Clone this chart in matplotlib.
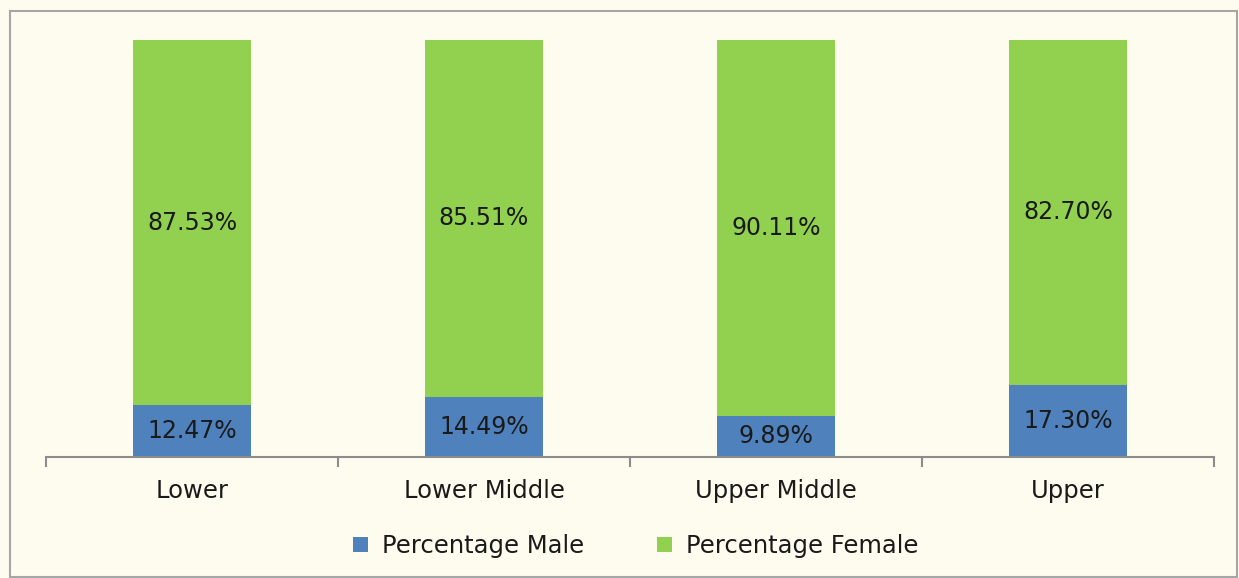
import matplotlib.pyplot as plt
import numpy as np
from matplotlib.patches import Rectangle

categories = ["Lower", "Lower Middle", "Upper Middle", "Upper"]
male = [12.47, 14.49, 9.89, 17.30]
female = [87.53, 85.51, 90.11, 82.70]

W, H = 1239, 578
bg = "#FEFCEF"
blue = "#4F81BD"
green = "#92D050"
txt = "#1a1a1a"

fig = plt.figure(figsize=(W / 100, H / 100), dpi=100)
fig.patch.set_facecolor(bg)

# outer chart frame
fig.add_artist(Rectangle((10 / W, 1 - 577 / H), 1227 / W, 566 / H,
                         transform=fig.transFigure, fill=False,
                         edgecolor="#A6A6A6", linewidth=1.5))

ax = fig.add_axes([46 / W, 1 - 457 / H, 1168 / W, 417 / H])
ax.set_facecolor(bg)

x = np.arange(len(categories))
ax.bar(x, male, width=0.405, color=blue, label="Percentage Male")
ax.bar(x, female, width=0.405, bottom=male, color=green, label="Percentage Female")

for i in range(len(categories)):
    ax.text(x[i], male[i] / 2, f"{male[i]:.2f}%", ha="center", va="center",
            fontsize=17, color=txt)
    ax.text(x[i], male[i] + female[i] / 2, f"{female[i]:.2f}%", ha="center",
            va="center", fontsize=17, color=txt)

ax.set_xlim(-0.5, len(categories) - 0.5)
ax.set_ylim(0, 100)
ax.set_yticks([])
for s in ["top", "right", "left"]:
    ax.spines[s].set_visible(False)
ax.spines["bottom"].set_color("#8C8C8C")
ax.spines["bottom"].set_linewidth(1.5)

# tick marks at category boundaries, labels centred under bars
ax.set_xticks(np.arange(len(categories) + 1) - 0.5)
ax.set_xticklabels([])
ax.tick_params(axis="x", length=7, width=1.5, color="#8C8C8C")
for i, c in enumerate(categories):
    ax.text(i, -8.2, c, ha="center", va="center", fontsize=17.5, color=txt,
            clip_on=False)

leg = fig.legend(loc="center", bbox_to_anchor=(636 / W, 1 - 546 / H), ncol=2,
                 frameon=False, fontsize=17.5, handlelength=0.6, handleheight=0.6,
                 columnspacing=3.0, handletextpad=0.6)
for t in leg.get_texts():
    t.set_color(txt)

fig.savefig("out.png", dpi=100, facecolor=bg)
